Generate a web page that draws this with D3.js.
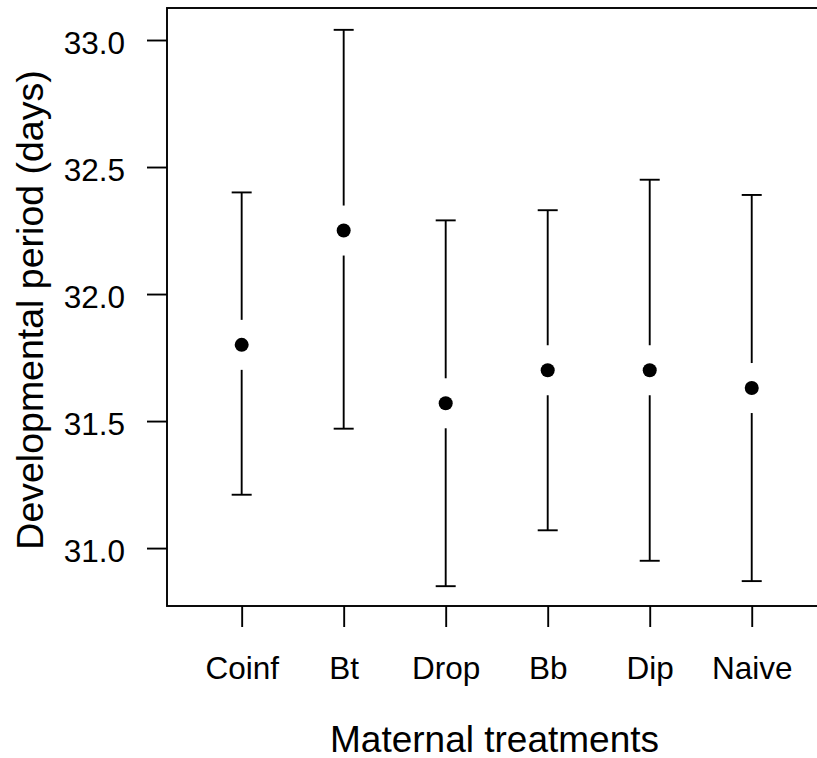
<!DOCTYPE html>
<html>
<head>
<meta charset="utf-8">
<script src="https://cdn.jsdelivr.net/npm/d3@7/dist/d3.min.js"></script>
<style>
  html, body { margin: 0; padding: 0; background: #fff; }
  svg { display: block; }
  text { font-family: "Liberation Sans", Arial, sans-serif; fill: #000; }
</style>
</head>
<body>
<svg id="chart" width="817" height="758"></svg>
<script>
// Maternal treatment groups and developmental period (days): mean with interval bounds
const treatments = ["Coinf", "Bt", "Drop", "Bb", "Dip", "Naive"];
const meanDays   = [31.80, 32.25, 31.57, 31.70, 31.70, 31.63];
const lowerDays  = [31.21, 31.47, 30.85, 31.07, 30.95, 30.87];
const upperDays  = [32.40, 33.04, 32.29, 32.33, 32.45, 32.39];
const yTickValues = [31.0, 31.5, 32.0, 32.5, 33.0];
const yLimits = [30.772, 33.126];

const rows = treatments.map((t, i) => ({
  name: t, mean: meanDays[i], lo: lowerDays[i], hi: upperDays[i]
}));

const svg = d3.select("#chart");
const plot = { left: 167, right: 826.4, top: 8, bottom: 606 };

const x = d3.scalePoint()
  .domain(treatments)
  .range([plot.left, plot.right])
  .padding(0.732);

const y = d3.scaleLinear()
  .domain(yLimits)
  .range([plot.bottom, plot.top]);

const ink = "#000";
const lw = 1.9;

// y axis
const yAxis = svg.append("g")
  .attr("transform", `translate(${plot.left},0)`)
  .call(d3.axisLeft(y).tickValues(yTickValues).tickFormat(d3.format(".1f"))
    .tickSize(20).tickPadding(22));
yAxis.select(".domain").remove();
yAxis.selectAll(".tick line").attr("stroke", ink).attr("stroke-width", lw);
yAxis.selectAll(".tick text")
  .attr("font-size", 31.5).attr("dy", null).attr("y", 13.5)
  .style("font-family", "'Liberation Sans', Arial, sans-serif").attr("fill", "#000");

// x axis
const xAxis = svg.append("g")
  .attr("transform", `translate(0,${plot.bottom})`)
  .call(d3.axisBottom(x).tickSize(21).tickPadding(30));
xAxis.select(".domain").remove();
xAxis.selectAll(".tick line").attr("stroke", ink).attr("stroke-width", lw);
xAxis.selectAll(".tick text")
  .attr("font-size", 31.5).attr("dy", null).attr("y", 73)
  .style("font-family", "'Liberation Sans', Arial, sans-serif").attr("fill", "#000");

// plot frame
svg.append("rect")
  .attr("x", plot.left).attr("y", plot.top)
  .attr("width", plot.right - plot.left).attr("height", plot.bottom - plot.top)
  .attr("fill", "none").attr("stroke", ink).attr("stroke-width", lw);

// error bars with a gap around each point
const gap = 25, capHalf = 10;
const bars = svg.append("g").attr("stroke", ink).attr("stroke-width", lw);
rows.forEach(d => {
  const cx = x(d.name), cy = y(d.mean);
  bars.append("line").attr("x1", cx).attr("x2", cx)
    .attr("y1", y(d.hi)).attr("y2", cy - gap);
  bars.append("line").attr("x1", cx).attr("x2", cx)
    .attr("y1", cy + gap).attr("y2", y(d.lo));
  bars.append("line").attr("x1", cx - capHalf).attr("x2", cx + capHalf)
    .attr("y1", y(d.hi)).attr("y2", y(d.hi));
  bars.append("line").attr("x1", cx - capHalf).attr("x2", cx + capHalf)
    .attr("y1", y(d.lo)).attr("y2", y(d.lo));
});

// mean points
svg.append("g").selectAll("circle")
  .data(rows).join("circle")
  .attr("cx", d => x(d.name))
  .attr("cy", d => y(d.mean))
  .attr("r", 7)
  .attr("fill", "#000");

// axis titles
svg.append("text")
  .attr("x", 494.5).attr("y", 751.5)
  .attr("text-anchor", "middle")
  .attr("font-size", 37)
  .text("Maternal treatments");

svg.append("text")
  .attr("transform", "translate(43,310) rotate(-90)")
  .attr("text-anchor", "middle")
  .attr("font-size", 37.5)
  .text("Developmental period (days)");
</script>
</body>
</html>
